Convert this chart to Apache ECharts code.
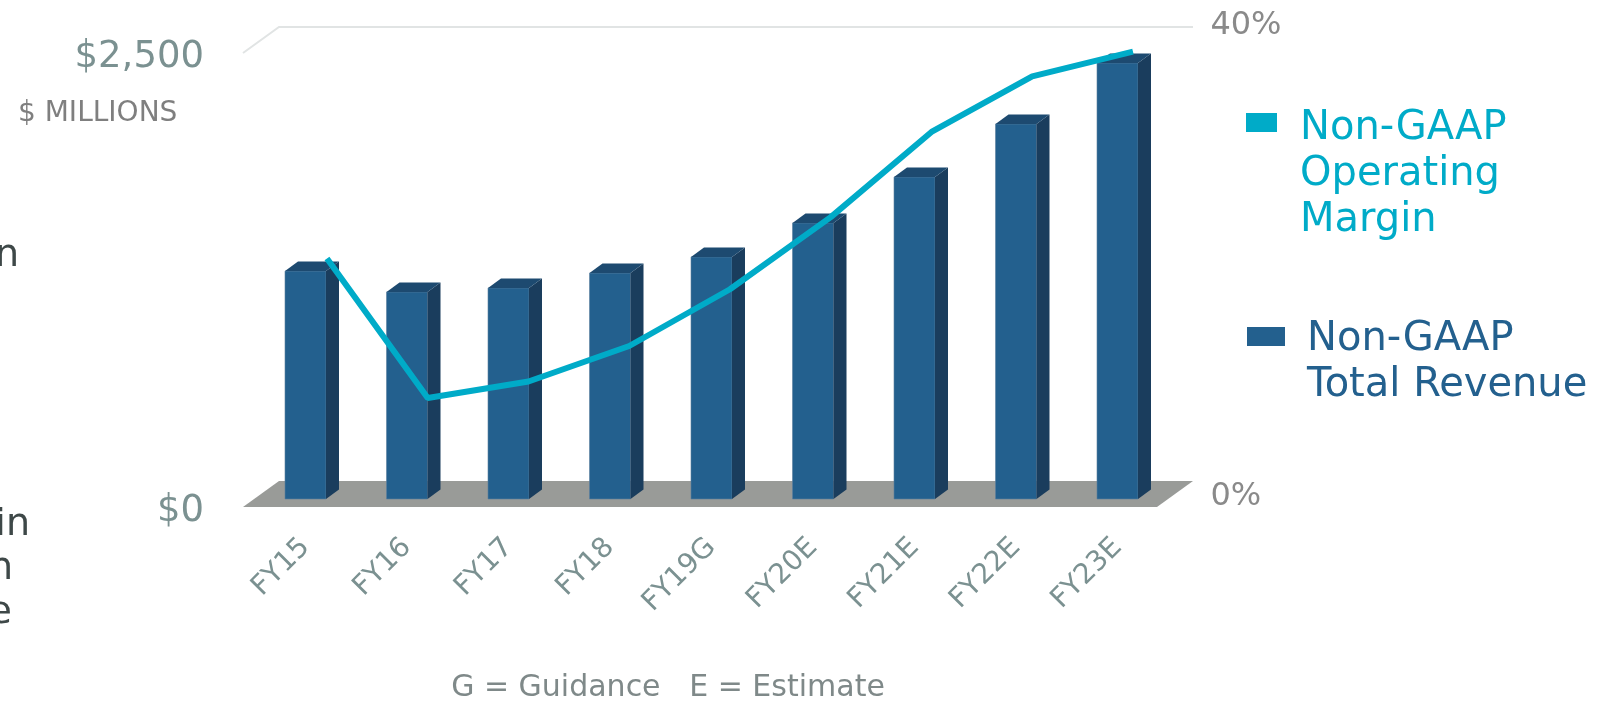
<!DOCTYPE html>
<html>
<head>
<meta charset="utf-8">
<script src="https://cdn.jsdelivr.net/npm/echarts@6/dist/echarts.min.js"></script>
<style>
html,body{margin:0;padding:0;background:#fff;}
#chart{width:1624px;height:703px;}
</style>
</head>
<body>
<div id="chart"></div>
<script>
const categories = ['FY15','FY16','FY17','FY18','FY19G','FY20E','FY21E','FY22E','FY23E'];
const revenue = [1255, 1140, 1162, 1244, 1333, 1520, 1773, 2065, 2401];
const margin = [20.0, 8.2, 9.6, 12.6, 17.4, 23.5, 30.7, 35.4, 37.5];
const leftTicks = ['$0', '$2,500'];
const rightTicks = ['0%', '40%'];

const FONT = 'DejaVu Sans';
const chart = echarts.init(document.getElementById('chart'));

const BAR_W = 41, DX = 13, DY = 9.5;
const FLOOR_DX = 36, FLOOR_DY = 26;

const option = {
  animation: false,
  grid: [
    {left: 254.75, width: 913.5, top: 45, height: 454},   // bars
    {left: 276.6, width: 906.75, top: 22, height: 473},   // line
    {left: 243, width: 914, top: 53, height: 454},        // front plane (floor, wall line)
    {left: 243, width: 940.4, top: 26, height: 471},      // right axis labels
    {left: 243, width: 914, top: 57, height: 454}         // left axis labels
  ],
  xAxis: [
    {type: 'category', gridIndex: 0, data: categories,
     axisLine: {show: false}, axisTick: {show: false},
     axisLabel: {rotate: 45, margin: 44, color: '#7b9191', fontFamily: FONT, fontSize: 28}},
    {type: 'category', gridIndex: 1, data: categories, show: false},
    {type: 'category', gridIndex: 2, data: [''], show: false},
    {type: 'category', gridIndex: 3, data: [''], show: false},
    {type: 'category', gridIndex: 4, data: [''], show: false}
  ],
  yAxis: [
    {type: 'value', gridIndex: 0, min: 0, max: 2500, show: false},
    {type: 'value', gridIndex: 1, min: 0, max: 40, show: false},
    {type: 'value', gridIndex: 2, min: 0, max: 2500, show: false},
    {type: 'value', gridIndex: 3, min: 0, max: 40, interval: 40, position: 'right',
     axisLine: {show: false}, axisTick: {show: false}, splitLine: {show: false},
     axisLabel: {margin: 27, color: '#8a8a8a', fontFamily: FONT, fontSize: 32,
       formatter: v => rightTicks[v / 40]}},
    {type: 'value', gridIndex: 4, min: 0, max: 2500, interval: 2500,
     axisLine: {show: false}, axisTick: {show: false}, splitLine: {show: false},
     axisLabel: {margin: 39, color: '#7b9191', fontFamily: FONT, fontSize: 37,
       formatter: v => leftTicks[v / 2500]}}
  ],
  series: [
    {
      name: 'floor', type: 'custom', xAxisIndex: 2, yAxisIndex: 2, z: 1,
      data: [[0, 2500]],
      renderItem: function (params, api) {
        const cs = params.coordSys;
        const y0 = api.coord([0, 0])[1];
        const yTop = api.coord([0, api.value(1)])[1];
        const xl = cs.x, xr = cs.x + cs.width;
        return {type: 'group', children: [
          {type: 'polygon', shape: {points: [[xl, y0], [xr, y0], [xr + FLOOR_DX, y0 - FLOOR_DY], [xl + FLOOR_DX, y0 - FLOOR_DY]]},
           style: {fill: '#999b98'}},
          {type: 'polyline', shape: {points: [[xl, yTop], [xl + FLOOR_DX, yTop - FLOOR_DY], [xr + FLOOR_DX, yTop - FLOOR_DY]]},
           style: {stroke: '#e1e4e4', lineWidth: 2, fill: null}}
        ]};
      }
    },
    {
      name: 'Non-GAAP Total Revenue', type: 'custom', xAxisIndex: 0, yAxisIndex: 0, z: 2,
      data: revenue.map((v, i) => [i, v]),
      renderItem: function (params, api) {
        const top = api.coord([api.value(0), api.value(1)]);
        const base = api.coord([api.value(0), 0]);
        const xl = top[0] - BAR_W / 2, xr = top[0] + BAR_W / 2;
        return {type: 'group', children: [
          {type: 'rect', shape: {x: xl, y: top[1], width: BAR_W, height: base[1] - top[1]},
           style: {fill: '#23608e', stroke: '#5d80a0', lineWidth: 0.6}},
          {type: 'polygon', shape: {points: [[xr, top[1]], [xr + DX, top[1] - DY], [xr + DX, base[1] - DY], [xr, base[1]]]},
           style: {fill: '#1a3d5d'}},
          {type: 'polygon', shape: {points: [[xl, top[1]], [xl + DX, top[1] - DY], [xr + DX, top[1] - DY], [xr, top[1]]]},
           style: {fill: '#1d4a70'}}
        ]};
      }
    },
    {
      name: 'Non-GAAP Operating Margin', type: 'line', xAxisIndex: 1, yAxisIndex: 1, z: 5,
      data: margin, symbol: 'none',
      lineStyle: {color: '#00abc8', width: 6}
    }
  ],
  graphic: [
    {type: 'text', left: 18, top: 100, style: {text: '$ MILLIONS', fill: '#7f7f7f', font: '28px "DejaVu Sans"'}},
    {type: 'rect', shape: {x: 1246, y: 113, width: 31, height: 19}, style: {fill: '#00abc8'}},
    {type: 'text', x: 1300, y: 106, style: {text: 'Non-GAAP\nOperating\nMargin', fill: '#00abc8', font: '40px "DejaVu Sans"', lineHeight: 46, textVerticalAlign: 'top'}},
    {type: 'rect', shape: {x: 1247, y: 327, width: 38, height: 19}, style: {fill: '#23608e'}},
    {type: 'text', x: 1307, y: 317, style: {text: 'Non-GAAP\nTotal Revenue', fill: '#23608e', font: '40px "DejaVu Sans"', lineHeight: 46, textVerticalAlign: 'top'}},
    {type: 'text', x: 668, y: 688, style: {text: 'G = Guidance   E = Estimate', fill: '#7f8989', font: '30px "DejaVu Sans"', textAlign: 'center', textVerticalAlign: 'middle'}},
    {type: 'text', x: 19, y: 256, style: {text: 'n', fill: '#3e4848', font: '38px "DejaVu Sans"', textAlign: 'right', textVerticalAlign: 'middle'}},
    {type: 'text', x: 30, y: 525, style: {text: 'in', fill: '#3e4848', font: '38px "DejaVu Sans"', textAlign: 'right', textVerticalAlign: 'middle'}},
    {type: 'text', x: 13, y: 569, style: {text: 'n', fill: '#3e4848', font: '38px "DejaVu Sans"', textAlign: 'right', textVerticalAlign: 'middle'}},
    {type: 'text', x: 12, y: 613, style: {text: 'e', fill: '#3e4848', font: '38px "DejaVu Sans"', textAlign: 'right', textVerticalAlign: 'middle'}}
  ]
};
chart.setOption(option);
</script>
</body>
</html>
